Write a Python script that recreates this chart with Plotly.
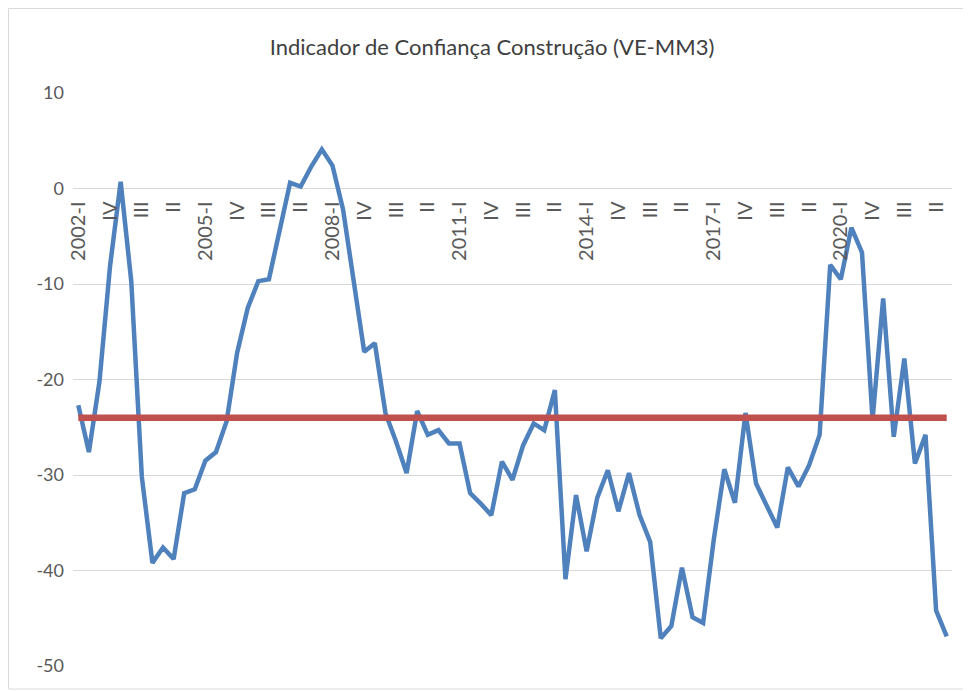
import plotly.graph_objects as go

# quarterly series 2002-I .. 2022-III
anos = list(range(2002, 2023))
trimestres = ["I", "II", "III", "IV"]

valores = [
    -22.7, -27.6, -20.2, -8.1, 0.7, -9.7, -30.2, -39.2, -37.6, -38.8,
    -31.9, -31.5, -28.5, -27.6, -24.4, -17.2, -12.5, -9.7, -9.5, -4.3,
    0.6, 0.2, 2.3, 4.1, 2.4, -2.2, -9.5, -17.1, -16.2, -23.5,
    -26.5, -29.8, -23.3, -25.8, -25.3, -26.7, -26.7, -31.9, -33.0, -34.2,
    -28.6, -30.5, -26.9, -24.6, -25.3, -21.1, -40.9, -32.1, -38.0, -32.4,
    -29.5, -33.8, -29.8, -34.2, -37.0, -47.1, -45.8, -39.7, -44.9, -45.5,
    -36.8, -29.4, -32.9, -23.5, -30.9, -33.3, -35.5, -29.2, -31.2, -29.0,
    -25.8, -8.0, -9.5, -4.1, -6.7, -24.2, -11.5, -26.0, -17.8, -28.8,
    -25.8, -44.2, -46.9,
]
media = -24.0

y_ticks = [-50, -40, -30, -20, -10, 0, 10]
y_labels = ["-50", "-40", "-30", "-20", "-10", "0", "10"]

categorias = []
for a in anos:
    for t in trimestres:
        categorias.append(f"{a}-{t}" if t == "I" else t)
categorias = categorias[:len(valores)]
idx = list(range(len(valores)))

# the page adds an 8px body margin, so work in page pixels and subtract it
OFF = 8
W, H = 971 - OFF, 691 - OFF
L, T = 73 - OFF, 93 - OFF
R = W - (952 - OFF)
B = H - (666 - OFF)
pw, ph = W - L - R, H - T - B

def px(x):
    return (x - OFF - L) / pw

def py(y):
    return (H - B - (y - OFF)) / ph

fnt = "Lato, 'Open Sans', sans-serif"

fig = go.Figure()
fig.add_trace(go.Scatter(x=idx, y=valores, mode="lines",
                         line=dict(color="#4F81BD", width=4.5), hoverinfo="skip"))
fig.add_trace(go.Scatter(x=idx, y=[media] * len(idx), mode="lines",
                         line=dict(color="#C0504D", width=6.5), hoverinfo="skip"))

ymin, ymax = -50, 10
fig.update_layout(
    width=W, height=H,
    margin=dict(l=L, r=R, t=T, b=B, autoexpand=False),
    paper_bgcolor="white", plot_bgcolor="white",
    showlegend=False,
    font=dict(family=fnt, color="#595959"),
    title=dict(text="Indicador de Confiança Construção (VE-MM3)",
               x=(492 - OFF) / W, xanchor="center", xref="container",
               y=1 - (47 - OFF) / H, yanchor="middle", yref="container",
               font=dict(size=22, color="#404040", family=fnt)),
    xaxis=dict(range=[-0.5, len(idx) - 0.5], anchor="free",
               position=(0 - ymin) / (ymax - ymin),
               tickmode="array", tickvals=idx[::3], ticktext=categorias[::3],
               tickangle=-90, ticks="", showgrid=False, showline=False,
               zeroline=False, ticklabelstandoff=8,
               tickfont=dict(size=20, color="#595959")),
    yaxis=dict(range=[ymin, ymax], tickmode="array", tickvals=y_ticks,
               ticktext=y_labels,
               showgrid=True, gridcolor="#d9d9d9", gridwidth=1.3,
               zeroline=False, showline=False, ticks="",
               ticklabelstandoff=8,
               tickfont=dict(size=18, color="#595959")),
    shapes=[dict(type="rect", xref="paper", yref="paper",
                 x0=px(OFF + 0.5), x1=px(965), y0=py(689), y1=py(OFF + 0.5),
                 line=dict(color="#d9d9d9", width=1))],
)

fig.write_html("out.html")
